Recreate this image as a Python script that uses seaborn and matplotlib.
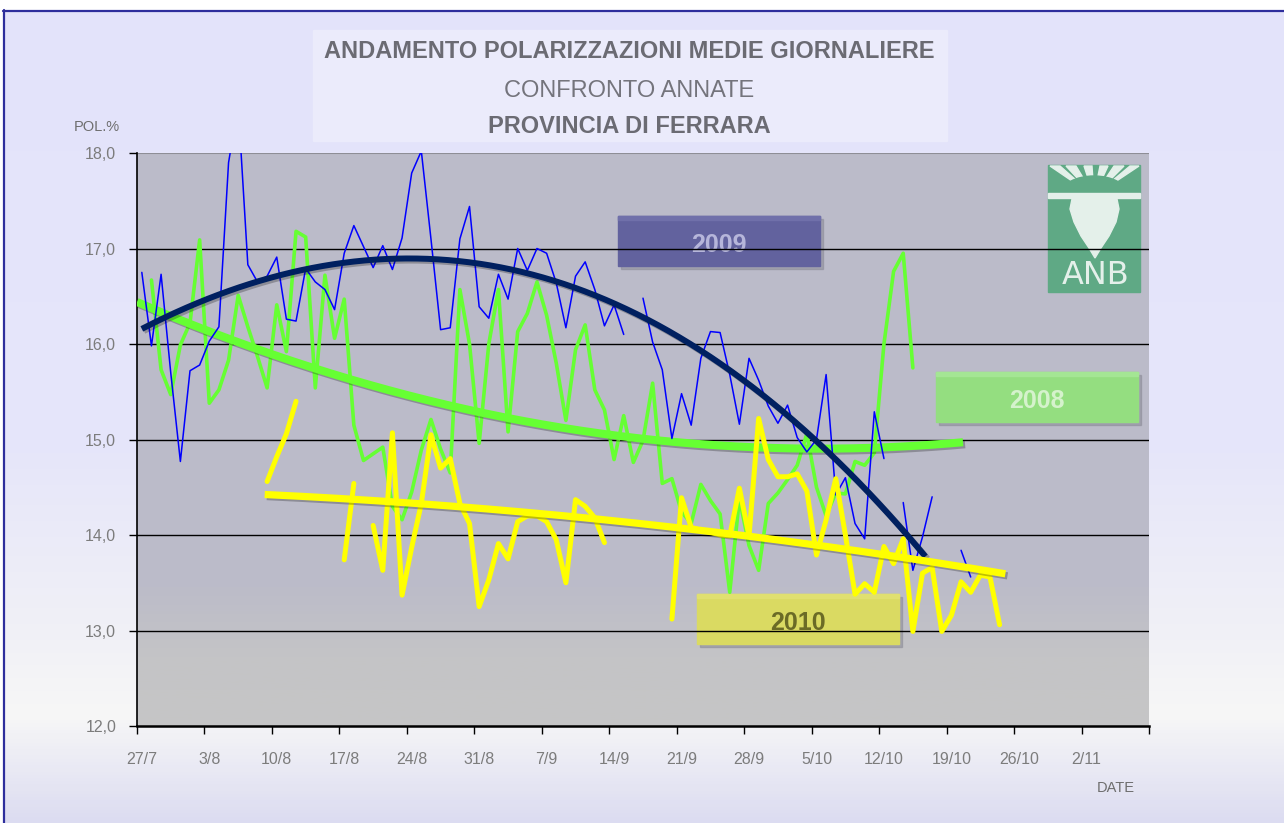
import numpy as np
import pandas as pd
import matplotlib
matplotlib.use("Agg")
import matplotlib.pyplot as plt
import seaborn as sns
from matplotlib.patches import Rectangle, Polygon, Ellipse
from matplotlib.colors import LinearSegmentedColormap
import matplotlib.patheffects as pe

# ---------------- data ----------------
date_labels = ["27/7", "3/8", "10/8", "17/8", "24/8", "31/8", "7/9", "14/9",
               "21/9", "28/9", "5/10", "12/10", "19/10", "26/10", "2/11"]
label_days = [0, 7, 14, 21, 28, 35, 42, 49, 56, 63, 70, 77, 84, 91, 98]

y_ticks = [12, 13, 14, 15, 16, 17, 18]
y_tick_labels = ["12,0", "13,0", "14,0", "15,0", "16,0", "17,0", "18,0"]

# daily mean polarisation, index = days after 27/7 (None = no value)
pol_2009 = [16.75, 15.98, 16.73, 15.70, 14.77, 15.72, 15.78, 16.03, 16.18, 17.90,
            18.50, 16.83, 16.65, 16.71, 16.91, 16.26, 16.24, 16.79, 16.65, 16.57,
            16.36, 16.95, 17.24, 17.02, 16.80, 17.03, 16.78, 17.11, 17.79, 18.02,
            17.10, 16.15, 16.17, 17.10, 17.44, 16.39, 16.27, 16.73, 16.47, 17.00,
            16.77, 17.00, 16.95, 16.64, 16.17, 16.71, 16.86, 16.57, 16.19, 16.41,
            16.10, None, 16.48, 16.02, 15.73, 15.01, 15.48, 15.15, 15.85, 16.13,
            16.12, 15.68, 15.16, 15.85, 15.62, 15.35, 15.17, 15.36, 15.02, 14.87,
            15.00, 15.68, 14.42, 14.60, 14.12, 13.96, 15.29, 14.80, None, 14.34,
            13.63, 13.98, 14.40, None, None, 13.84, 13.56]

pol_2008 = [None, 16.67, 15.73, 15.47, 15.99, 16.22, 17.09, 15.38, 15.52, 15.83,
            16.51, 16.18, 15.87, 15.54, 16.41, 15.92, 17.18, 17.12, 15.54, 16.72,
            16.06, 16.47, 15.15, 14.78, 14.85, 14.92, 14.30, 14.16, 14.45, 14.89,
            15.21, 14.90, 14.65, 16.57, 16.00, 14.96, 16.00, 16.57, 15.08, 16.13,
            16.32, 16.65, 16.30, 15.80, 15.20, 15.94, 16.20, 15.52, 15.31, 14.79,
            15.25, 14.76, 14.99, 15.59, 14.54, 14.59, 14.24, 14.12, 14.53, 14.36,
            14.22, 13.40, 14.38, 13.89, 13.63, 14.33, 14.44, 14.58, 14.73, 15.06,
            14.50, 14.20, 14.44, 14.43, 14.77, 14.73, 14.86, 16.00, 16.76, 16.95,
            15.75]

pol_2010 = [None, None, None, None, None, None, None, None, None, None,
            None, None, None, 14.56, 14.82, 15.06, 15.40, None, None, None,
            None, 13.74, 14.54, None, 14.10, 13.63, 15.07, 13.37, 13.87, 14.33,
            15.05, 14.70, 14.80, 14.33, 14.12, 13.25, 13.53, 13.91, 13.75, 14.14,
            14.20, 14.20, 14.14, 13.95, 13.50, 14.37, 14.30, 14.18, 13.92, None,
            None, None, None, None, None, 13.12, 14.39, 14.08, 14.05, 14.03,
            14.00, 13.99, 14.49, 13.99, 15.22, 14.79, 14.61, 14.61, 14.64, 14.46,
            13.79, 14.16, 14.59, 14.00, 13.38, 13.49, 13.40, 13.88, 13.70, 13.96,
            12.99, 13.60, 13.66, 12.99, 13.16, 13.51, 13.40, 13.58, 13.56, 13.06]

# polynomial trendlines: sample points
trend_2008_days = [-0.5, 9.1, 19.5, 31.0, 48.3, 55.0, 65.0, 85.2]
trend_2008_vals = [16.46, 16.02, 15.69, 15.40, 15.06, 14.96, 14.92, 14.97]
trend_2009_days = [0.0, 4.0, 9.1, 14.3, 19.5, 24.6, 31.0, 39.8, 52.2, 57.7,
                   65.0, 69.6, 75.0, 79.1, 81.3]
trend_2009_vals = [16.11, 16.34, 16.64, 16.77, 16.83, 16.84, 16.85, 16.71,
                   16.27, 16.00, 15.47, 14.95, 14.52, 14.02, 13.77]
trend_2010_days = [12.75, 30.9, 53.6, 65.0, 89.6]
trend_2010_vals = [14.43, 14.30, 14.10, 13.97, 13.59]
trend_order = {"2008": 2, "2009": 3, "2010": 2}

title_lines = ["ANDAMENTO POLARIZZAZIONI MEDIE GIORNALIERE",
               "CONFRONTO ANNATE",
               "PROVINCIA DI FERRARA"]

# ---------------- style ----------------
sns.set_style("white")
plt.rcParams["font.family"] = ["Liberation Sans", "DejaVu Sans"]

W, H = 1284, 823
fig = plt.figure(figsize=(W / 100, H / 100), dpi=100)

# background layer in pixel coordinates
bg = fig.add_axes([0, 0, 1, 1], zorder=-10)
bg.set_xlim(0, W)
bg.set_ylim(H, 0)
bg.axis("off")
bg_cmap = LinearSegmentedColormap.from_list(
    "bgfade", [(0.0, "#E3E3FB"), (0.55, "#E6E6FA"), (0.78, "#F1F1F6"),
               (0.87, "#F7F7F7"), (1.0, "#DCDCF1")])
bg.imshow(np.linspace(0, 1, 256).reshape(-1, 1), cmap=bg_cmap,
          extent=[0, W, H, 0], aspect="auto", zorder=0)
bg.add_patch(Rectangle((0, 0), W, 10, color="white", zorder=1))
bg.add_patch(Rectangle((0, 0), 3, H, color="white", zorder=1))
bg.plot([3, W], [10.5, 10.5], color="#2E2E9C", lw=1.6, zorder=2)
bg.plot([3.5, 3.5], [10, H], color="#2E2E9C", lw=1.6, zorder=2)

# title box
bg.add_patch(Rectangle((313, 30), 634, 111, color="#EBEBFB", zorder=1))
bg.text(629, 58, title_lines[0], ha="center", va="baseline", fontsize=17,
        weight="bold", color="#6B6B73", zorder=3)
bg.text(629, 97, title_lines[1], ha="center", va="baseline", fontsize=17,
        color="#74747C", zorder=3)
bg.text(629, 133, title_lines[2], ha="center", va="baseline", fontsize=17,
        weight="bold", color="#6B6B73", zorder=3)
bg.text(74, 131, "POL.%", ha="left", va="baseline", fontsize=10.5,
        color="#6E6E6E", zorder=3)
bg.text(1097, 792, "DATE", ha="left", va="baseline", fontsize=10.5,
        color="#6E6E6E", zorder=3)

# ---------------- plot area ----------------
AX_L, AX_R, AX_T, AX_B = 137, 1149, 153, 726
X0, X1, Y0, Y1 = -0.5, 104.5, 12, 18
ax = fig.add_axes([AX_L / W, 1 - AX_B / H, (AX_R - AX_L) / W, (AX_B - AX_T) / H])


def P(px, py):
    """pixel position -> data coordinates of the plot area"""
    return (X0 + (px - AX_L) / (AX_R - AX_L) * (X1 - X0),
            Y0 + (AX_B - py) / (AX_B - AX_T) * (Y1 - Y0))


def rect_px(x0, y0, x1, y1, **kw):
    a = P(x0, y1)
    b = P(x1, y0)
    return Rectangle(a, b[0] - a[0], b[1] - a[1], **kw)


plot_cmap = LinearSegmentedColormap.from_list(
    "plotbg", [(0.0, "#C6C6C6"), (0.12, "#C4C4C6"), (0.24, "#BCBCC9"),
               (1.0, "#BBBBCA")])
ax.imshow(np.linspace(0, 1, 256).reshape(-1, 1), cmap=plot_cmap, origin="lower",
          extent=[X0, X1, Y0, Y1], aspect="auto", zorder=0)

# ANB logo
LOGO_G, LOGO_W = "#5FA985", "#E4F0EA"
ax.add_patch(rect_px(1048, 165, 1140, 292, color=LOGO_G, zorder=0.6))
for xl, xr in [(1050, 1060), (1066, 1076), (1084, 1092), (1100, 1108),
               (1114, 1124), (1130, 1139)]:
    ax.add_patch(Polygon([P(xl, 166), P(xr, 166), P(1094, 196)], closed=True,
                         color=LOGO_W, zorder=0.62))
c = P(1094, 194)
e1 = P(1061, 194)
e2 = P(1094, 176)
ax.add_patch(Ellipse(c, 2 * (c[0] - e1[0]), 2 * (e2[1] - c[1]),
                     color=LOGO_G, zorder=0.64))
ax.add_patch(rect_px(1048, 193, 1140, 198, color=LOGO_W, zorder=0.66))
beet = [(1072, 199), (1117, 199), (1119, 209), (1116, 222), (1109, 236),
        (1101, 248), (1095, 258), (1089, 248), (1081, 236), (1074, 222),
        (1070, 209)]
ax.add_patch(Polygon([P(*p) for p in beet], closed=True, color=LOGO_W,
                     zorder=0.66))
ax.text(*P(1096, 284), "ANB", ha="center", va="baseline", fontsize=23,
        color=LOGO_W, family="DejaVu Sans", zorder=0.68)

# legend boxes (under the grid lines, like the reference)
legend_boxes = [
    ("2009", (618, 216, 820, 266), "#62629E", "#7070AA", "#B6B6DA"),
    ("2008", (936, 372, 1138, 422), "#94DE80", "#A4E694", "#D5F2CC"),
    ("2010", (697, 594, 899, 644), "#DADA62", "#E0E070", "#6B6B26"),
]
for name, (x0, y0, x1, y1), fc, hc, tc in legend_boxes:
    ax.add_patch(rect_px(x0 + 3, y0 + 3, x1 + 3, y1 + 3, color="#8A8A96",
                         alpha=0.55, zorder=0.7))
    ax.add_patch(rect_px(x0, y0, x1, y1, color=fc, zorder=0.75))
    ax.add_patch(rect_px(x0, y0, x1, y0 + 4, color=hc, zorder=0.76))
    ax.text(*P((x0 + x1) / 2, y1 - 14), name, ha="center", va="baseline",
            fontsize=18, weight="bold", color=tc, zorder=0.8)

# grid lines
for v in [13, 14, 15, 16, 17]:
    ax.axhline(v, color="black", lw=1.0, zorder=1.5)
ax.axhline(18, color="#8E8E96", lw=1.5, zorder=1.5)


def long_frame(values, name):
    rows, seg = [], 0
    for d, v in enumerate(values):
        if v is None:
            seg += 1
            continue
        rows.append((d, v, seg, name))
    return pd.DataFrame(rows, columns=["day", "pol", "seg", "year"])


df08 = long_frame(pol_2008, "2008")
df09 = long_frame(pol_2009, "2009")
df10 = long_frame(pol_2010, "2010")

shadow = [pe.SimpleLineShadow(offset=(1.5, -1.5), alpha=0.25, shadow_color="black"),
          pe.Normal()]


def draw_trend(days, vals, name, color, lw, z):
    coef = np.polyfit(days, vals, trend_order[name])
    tx = np.linspace(days[0], days[-1], 300)
    ty = np.polyval(coef, tx)
    sns.lineplot(x=tx, y=ty, estimator=None, sort=False, color=color, lw=lw,
                 ax=ax, legend=False, zorder=z, path_effects=shadow,
                 solid_capstyle="butt")


sns.lineplot(data=df08, x="day", y="pol", units="seg", estimator=None,
             sort=False, color="#66FF33", lw=2.6, ax=ax, legend=False, zorder=2)
draw_trend(trend_2008_days, trend_2008_vals, "2008", "#66FF33", 5.8, 3)
sns.lineplot(data=df09, x="day", y="pol", units="seg", estimator=None,
             sort=False, color="#0000FF", lw=1.1, ax=ax, legend=False, zorder=4)
draw_trend(trend_2009_days, trend_2009_vals, "2009", "#002060", 4.3, 5)
sns.lineplot(data=df10, x="day", y="pol", units="seg", estimator=None,
             sort=False, color="#FFFF00", lw=3.6, ax=ax, legend=False, zorder=6,
             solid_capstyle="round")
draw_trend(trend_2010_days, trend_2010_vals, "2010", "#FFFF00", 5.2, 7)

# axes, ticks
ax.set_xlim(X0, X1)
ax.set_ylim(Y0, Y1)
ax.set_xlabel("")
ax.set_ylabel("")
ax.set_xticks(label_days)
ax.set_xticklabels(date_labels)
ax.set_xticks(np.arange(-0.5, 105, 7), minor=True)
ax.tick_params(axis="x", which="major", length=0, pad=19, labelsize=11.5,
               labelcolor="#7C7C7C")
ax.tick_params(axis="x", which="minor", length=6, width=1.0, color="black",
               direction="out", bottom=True)
ax.set_yticks(y_ticks)
ax.set_yticklabels(y_tick_labels)
ax.tick_params(axis="y", which="major", length=6, width=1.0, color="black",
               direction="out", left=True, pad=9, labelsize=11.5,
               labelcolor="#7C7C7C")
for s in ["top", "right"]:
    ax.spines[s].set_visible(False)
ax.spines["left"].set_color("black")
ax.spines["left"].set_linewidth(1.2)
ax.spines["bottom"].set_color("black")
ax.spines["bottom"].set_linewidth(1.8)
ax.grid(False)

fig.savefig("out.png", dpi=100)
